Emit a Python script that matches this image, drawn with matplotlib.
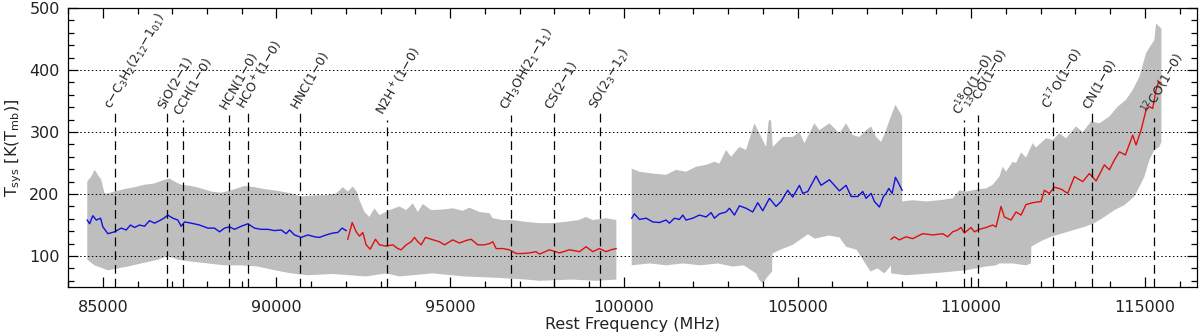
import matplotlib
matplotlib.use("Agg")
from matplotlib import pyplot as plt
from matplotlib.ticker import MultipleLocator
import numpy as np

# Tsys vs rest frequency, three tunings (grey = spread, line = median)

# --- tuning 1, lower part (blue) ---
blue1_freq = [84553, 84620, 84714, 84812, 84936, 85003, 85146, 85339, 85531, 85675,
              85799, 85914, 86058, 86202, 86346, 86490, 86634, 86758, 86873, 87017,
              87161, 87257, 87354, 87546, 87785, 88025, 88217, 88361, 88505, 88649,
              88792, 88985, 89177, 89368, 89561, 89753, 89944, 90136, 90280, 90376,
              90519, 90712, 90903, 91095, 91239, 91431, 91622, 91766, 91892, 92007]
blue1_tsys = [158, 152, 165, 158, 161, 147, 136, 139, 145, 142,
              150, 146, 150, 148, 157, 153, 157, 161, 166, 161,
              158, 148, 155, 153, 150, 145, 145, 139, 145, 147,
              143, 148, 152, 145, 143, 143, 141, 142, 136, 142,
              134, 130, 134, 131, 130, 134, 137, 138, 145, 141]

# --- tuning 1, upper part (red) ---
red1_freq = [92053, 92180, 92295, 92390, 92485, 92581, 92697, 92850, 92965, 93157,
             93349, 93493, 93590, 93734, 93877, 93973, 94069, 94165, 94289, 94453,
             94692, 94836, 95075, 95267, 95459, 95603, 95795, 95987, 96131, 96227,
             96323, 96515, 96707, 96899, 97090, 97282, 97474, 97570, 97858, 98146,
             98434, 98722, 98913, 99105, 99297, 99490, 99634, 99778]
red1_tsys = [127, 154, 139, 132, 138, 118, 111, 127, 118, 116,
             118, 112, 110, 118, 123, 130, 123, 118, 130, 127,
             123, 118, 126, 121, 125, 127, 118, 118, 120, 123,
             112, 112, 110, 104, 104, 105, 107, 103, 110, 105,
             110, 107, 115, 107, 112, 107, 110, 112]

band1_hi_freq = [84553, 84668, 84764, 84860, 84956, 85051, 85147, 85339, 85627, 85914,
                 86202, 86490, 86778, 86922, 87066, 87258, 87546, 87834, 88122, 88409,
                 88697, 89080, 89368, 89656, 90040, 90424, 90712, 91095, 91431, 91719,
                 91911, 92053, 92197, 92312, 92390, 92534, 92677, 92821, 92965, 93253,
                 93541, 93733, 93925, 94069, 94213, 94453, 94789, 95075, 95363, 95555,
                 95843, 96131, 96227, 96515, 96803, 97187, 97570, 97900, 98300, 98700,
                 98913, 99105, 99490, 99785]
band1_hi = [220, 228, 239, 231, 223, 201, 201, 204, 208, 211,
            215, 217, 223, 225, 220, 215, 213, 209, 204, 202,
            206, 213, 211, 208, 205, 201, 196, 198, 198, 201,
            211, 204, 212, 204, 190, 171, 163, 177, 166, 174,
            180, 174, 185, 171, 184, 174, 175, 177, 173, 178,
            171, 169, 161, 158, 158, 155, 153, 153, 155, 158,
            163, 158, 161, 158]
band1_lo_freq = [84553, 84764, 85147, 85435, 85723, 86106, 86586, 86873, 87161, 87546,
                 88025, 88505, 88985, 89464, 89944, 90424, 90903, 91622, 92581, 93157,
                 93541, 94500, 95400, 96300, 97200, 97570, 98500, 99200, 99785]
band1_lo = [94, 85, 77, 80, 83, 88, 94, 100, 94, 91,
            88, 85, 85, 83, 77, 72, 69, 71, 67, 72,
            67, 72, 67, 65, 62, 60, 62, 60, 62]

# --- tuning 2 (blue) ---
blue2_freq = [100227, 100305, 100449, 100641, 100833, 101025, 101216, 101312, 101456, 101600,
              101696, 101792, 101984, 102176, 102368, 102512, 102608, 102752, 102944, 103040,
              103184, 103327, 103519, 103711, 103855, 103999, 104191, 104383, 104527, 104718,
              104862, 105054, 105150, 105294, 105534, 105678, 105918, 106062, 106206, 106398,
              106542, 106734, 106878, 106974, 107118, 107214, 107358, 107473, 107550, 107627,
              107723, 107819, 107915, 108011]
blue2_tsys = [161, 168, 159, 161, 155, 154, 158, 153, 161, 159,
              166, 158, 161, 166, 163, 170, 161, 168, 171, 177,
              166, 181, 177, 171, 186, 173, 193, 180, 188, 206,
              195, 214, 201, 204, 229, 214, 223, 214, 205, 214,
              196, 196, 204, 193, 201, 188, 179, 196, 201, 209,
              201, 227, 217, 206]

band2_hi_freq = [100227, 100449, 100833, 101216, 101504, 101792, 102080, 102368, 102608, 102752,
                 102944, 103088, 103327, 103519, 103759, 103903, 104095, 104172, 104239, 104287,
                 104575, 104862, 105054, 105198, 105486, 105630, 105918, 106206, 106398, 106590,
                 106782, 106974, 107118, 107262, 107406, 107550, 107646, 107819, 107934, 108011]
band2_hi = [241, 236, 233, 231, 239, 236, 244, 247, 252, 249,
            271, 260, 276, 271, 314, 298, 276, 319, 319, 276,
            292, 292, 300, 282, 314, 303, 314, 298, 314, 295,
            292, 303, 309, 292, 284, 303, 319, 344, 333, 325]
band2_lo_freq = [100227, 100737, 101216, 101700, 102200, 102700, 103136, 103450, 103807, 103903,
                 103999, 104143, 104268, 104275, 104500, 104862, 105300, 105500, 105900, 106206,
                 106398, 106700, 106950, 107100, 107300, 107500, 107700, 108011]
band2_lo = [85, 88, 85, 88, 85, 88, 83, 85, 72, 61,
            56, 67, 75, 104, 110, 118, 135, 128, 133, 130,
            115, 110, 88, 75, 80, 72, 85, 80]

# --- tuning 3 (red) ---
red3_freq = [107692, 107788, 107932, 108124, 108316, 108603, 108891, 109179, 109323, 109467,
             109611, 109707, 109803, 109995, 110091, 110235, 110427, 110619, 110715, 110859,
             110954, 111146, 111290, 111434, 111578, 111770, 112010, 112106, 112250, 112394,
             112586, 112778, 112970, 113210, 113402, 113594, 113834, 113978, 114122, 114266,
             114439, 114649, 114745, 114889, 115033, 115129, 115225, 115321, 115398, 115465]
red3_tsys = [127, 131, 126, 131, 128, 136, 134, 136, 131, 139,
             142, 146, 137, 146, 139, 143, 146, 150, 147, 180,
             163, 158, 171, 166, 183, 186, 188, 206, 201, 211,
             208, 201, 228, 220, 233, 221, 247, 239, 255, 268,
             263, 295, 279, 303, 335, 341, 338, 368, 381, 379]

band3_hi_freq = [107692, 108011, 108316, 108699, 109083, 109467, 109659, 109851, 110235, 110427,
                 110619, 110810, 110906, 111002, 111194, 111290, 111434, 111578, 111770, 111866,
                 112154, 112346, 112538, 112730, 113018, 113210, 113450, 113690, 113978, 114218,
                 114458, 114650, 114842, 115033, 115149, 115272, 115321, 115417, 115476]
band3_hi = [188, 188, 190, 188, 190, 193, 206, 204, 208, 209,
            215, 228, 244, 236, 252, 250, 267, 259, 282, 275,
            290, 287, 298, 290, 309, 300, 317, 314, 325, 341,
            352, 368, 389, 427, 438, 448, 475, 470, 467]
band3_lo_freq = [107692, 108124, 109083, 109851, 110427, 110715, 110810, 111194, 111578, 111722,
                 111730, 112010, 112298, 112778, 113258, 113546, 113834, 114122, 114410, 114698,
                 114890, 114986, 115130, 115273, 115417, 115476]
band3_lo = [72, 69, 73, 77, 83, 85, 88, 88, 85, 88,
            115, 124, 131, 139, 147, 153, 163, 174, 182, 196,
            217, 228, 255, 271, 276, 284]

# --- molecular lines ---
line_freq = [85338.9, 86847.0, 87316.9, 88631.6, 89188.5, 90663.6, 93173.7, 96741.4,
             97981.0, 99299.9, 109782.2, 110201.4, 112358.9, 113490.0, 115271.2]
line_top = [330, 330, 319, 327, 330, 330, 319, 327, 330, 330, 319, 327, 330, 330, 322]
line_names = [r"c$-$C$_3$H$_2$(2$_{12}$$-$1$_{01}$)", r"SiO(2$-$1)", r"CCH(1$-$0)",
              r"HCN(1$-$0)", r"HCO$^+$(1$-$0)", r"HNC(1$-$0)", r"N2H$^+$(1$-$0)",
              r"CH$_3$OH(2$_1$$-$1$_1$)", r"CS(2$-$1)", r"SO(2$_3$$-$1$_2$)",
              r"C$^{18}$O(1$-$0)", r"$^{13}$CO(1$-$0)", r"C$^{17}$O(1$-$0)",
              r"CN(1$-$0)", r"$^{12}$CO(1$-$0)"]

grey = '#bebebe'
txt = '#222222'

fig = plt.figure(figsize=(12, 3.34), dpi=100)
ax = fig.add_axes([0.0567, 0.1407, 0.9408, 0.8353])

bands = [(band1_hi_freq, band1_hi, band1_lo_freq, band1_lo),
         (band2_hi_freq, band2_hi, band2_lo_freq, band2_lo),
         (band3_hi_freq, band3_hi, band3_lo_freq, band3_lo)]
for hf, hv, lf, lv in bands:
    xs = np.concatenate([hf, lf[::-1]])
    ys = np.concatenate([hv, lv[::-1]])
    ax.fill(xs, ys, color=grey, lw=0, zorder=1)

ax.plot(blue1_freq, blue1_tsys, color='#1010e0', lw=1, zorder=3)
ax.plot(red1_freq, red1_tsys, color='#e01010', lw=1, zorder=3)
ax.plot(blue2_freq, blue2_tsys, color='#1010e0', lw=1, zorder=3)
ax.plot(red3_freq, red3_tsys, color='#e01010', lw=1, zorder=3)

for yv in [100, 200, 300, 400]:
    ax.axhline(yv, color='k', lw=0.7, linestyle=(0, (1.5, 2.5)), zorder=2)

ax.vlines(line_freq, 50, line_top, colors='k', lw=0.9, linestyles=[(0, (7, 4))], zorder=4)
for f, t, name in zip(line_freq, line_top, line_names):
    ax.text(f, t + 3, name, rotation=60, rotation_mode='anchor', ha='left', va='bottom',
            fontsize=9, color=txt, zorder=5)

ax.set_xlim(84000, 116500)
ax.set_ylim(50, 500)
ax.xaxis.set_major_locator(MultipleLocator(5000))
ax.xaxis.set_minor_locator(MultipleLocator(1000))
ax.yaxis.set_major_locator(MultipleLocator(100))
ax.yaxis.set_minor_locator(MultipleLocator(20))
ax.tick_params(which='both', direction='in', top=True, right=True, width=0.9)
ax.tick_params(which='major', length=7)
ax.tick_params(which='minor', length=4)
ax.tick_params(axis='x', which='major', labelsize=11.5, pad=9, labelcolor=txt)
ax.tick_params(axis='y', which='major', labelsize=11.5, pad=6, labelcolor=txt)
for s in ax.spines.values():
    s.set_linewidth(0.9)

ax.set_xlabel('Rest Frequency (MHz)', fontsize=11.5, labelpad=2, color=txt)
ax.set_ylabel(r'T$_{\rm sys}$ [K(T$_{\rm mb}$)]', fontsize=11.5, labelpad=4, color=txt)

fig.savefig('out.png', dpi=100)
